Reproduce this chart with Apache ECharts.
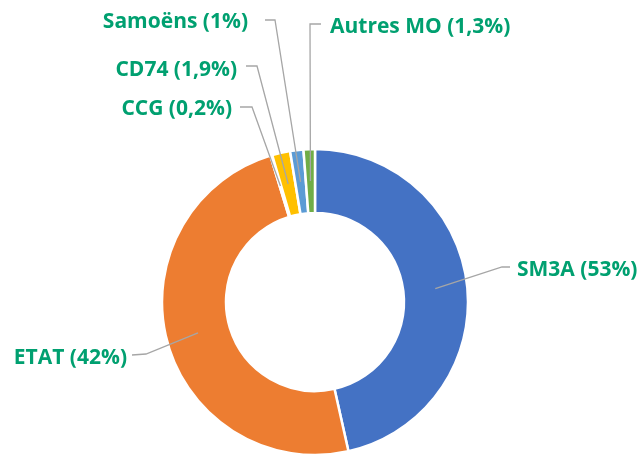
<!DOCTYPE html>
<html>
<head>
<meta charset="utf-8">
<script src="https://cdn.jsdelivr.net/npm/echarts@6/dist/echarts.min.js"></script>
<style>
  html, body { margin: 0; padding: 0; background: #fff; }
  #chart { width: 641px; height: 456px; }
</style>
</head>
<body>
<div id="chart"></div>
<script>
const names = ['SM3A', 'ETAT', 'CCG', 'CD74', 'Samoëns', 'Autres MO'];
const values = [46.4, 48.7, 0.2, 1.9, 1.4, 1.2];
const shownPct = ['53%', '42%', '0,2%', '1,9%', '1%', '1,3%'];
const colors = ['#4472C4', '#ED7D31', '#A5A5A5', '#FFC000', '#5B9BD5', '#70AD47'];

const CX = 315, CY = 302, R0 = 89, R1 = 153;

// where each label sits: text anchor, alignment, leader elbow and end
const labelPlace = [
  { x: 517, y: 270, align: 'left',  elbow: [502, 267], end: [510, 267] },
  { x: 127, y: 358, align: 'right', elbow: [146, 354], end: [132, 355] },
  { x: 232, y: 109, align: 'right', elbow: [252, 107], end: [240, 107] },
  { x: 237, y: 70,  align: 'right', elbow: [257, 66],  end: [246, 66] },
  { x: 248, y: 22,  align: 'right', elbow: [275, 20],  end: [265, 20] },
  { x: 330, y: 27,  align: 'left',  elbow: [310, 24],  end: [321, 24] }
];

const chart = echarts.init(document.getElementById('chart'));

const pieData = names.map((n, i) => ({ name: n, value: values[i], itemStyle: { color: colors[i] } }));

chart.setOption({
  animation: false,
  series: [
    {
      // the ring itself
      type: 'pie',
      z: 2,
      center: [CX, CY],
      radius: [R0, R1],
      startAngle: 90,
      clockwise: true,
      data: pieData,
      itemStyle: {
        borderColor: '#fff',
        borderWidth: 2.5
      },
      label: { show: false },
      labelLine: { show: false }
    },
    {
      // same slices, invisible, only to carry labels and leaders above the ring
      type: 'pie',
      z: 3,
      silent: true,
      center: [CX, CY],
      radius: [R0, R1],
      startAngle: 90,
      clockwise: true,
      avoidLabelOverlap: false,
      data: names.map((n, i) => ({ name: n, value: values[i] })),
      itemStyle: { color: 'rgba(0,0,0,0)', borderWidth: 0 },
      label: {
        show: true,
        formatter: p => `${p.name} (${shownPct[p.dataIndex]})`,
        color: '#00A070',
        fontFamily: 'Open Sans',
        fontWeight: 'bold',
        fontSize: 21
      },
      labelLine: {
        show: true,
        length: 20,
        length2: 10,
        lineStyle: { color: '#A6A6A6', width: 1.3 }
      },
      labelLayout: function (params) {
        const pl = labelPlace[params.dataIndex];
        const pts = params.labelLinePoints;
        let start = pl.elbow;
        if (pts && pts[0]) {
          const dx = pts[0][0] - CX, dy = pts[0][1] - CY;
          const len = Math.sqrt(dx * dx + dy * dy) || 1;
          const rm = (R0 + R1) / 2;
          start = [CX + dx / len * rm, CY + dy / len * rm];
        }
        return {
          x: pl.x,
          y: pl.y,
          align: pl.align,
          verticalAlign: 'middle',
          labelLinePoints: [start, pl.elbow, pl.end]
        };
      }
    }
  ]
});
</script>
</body>
</html>
